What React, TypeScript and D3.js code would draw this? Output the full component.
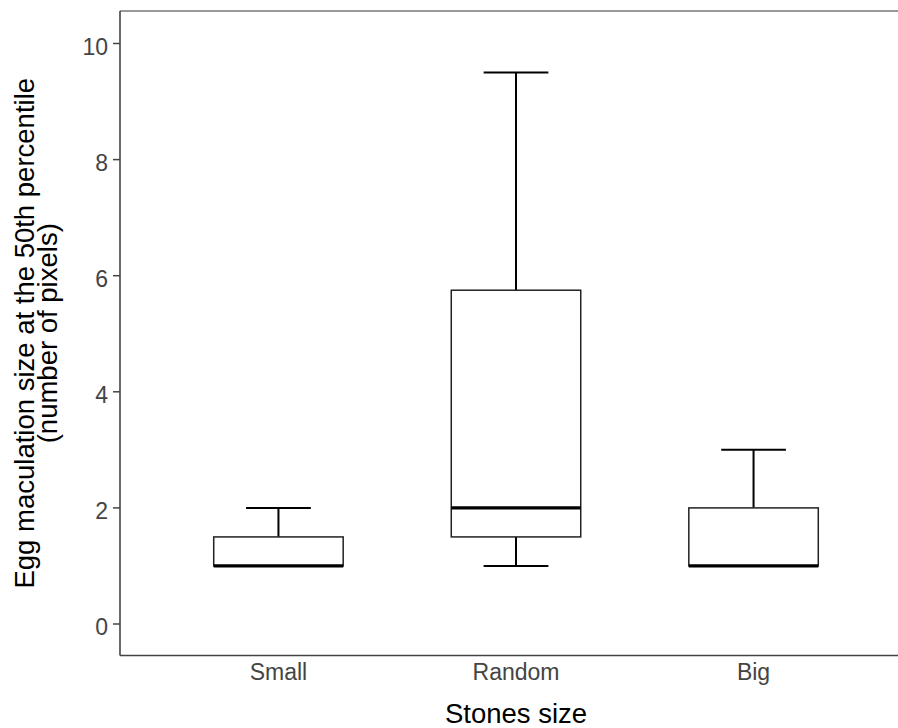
import React from 'react';
import * as d3 from 'd3';

const groups = ['Small', 'Random', 'Big'];
const lowWhisker = [1, 1, 1];
const q1 = [1, 1.5, 1];
const medians = [1, 2, 1];
const q3 = [1.5, 5.75, 2];
const highWhisker = [2, 9.5, 3];
const yTicks = [0, 2, 4, 6, 8, 10];

const W = 898;
const H = 728;
const plot = { left: 120, right: 912, top: 11, bottom: 655.5 };

export default function App() {
  const x = d3.scalePoint<string>().domain(groups).range([plot.left, plot.right]).padding(0.667);
  const y = d3.scaleLinear().domain([0, 10]).range([624, 43.5]);
  const step = x.step();
  const boxW = step * 0.545;
  const capW = boxW / 2;

  const tickFont = { fontFamily: '"Liberation Sans", Arial, sans-serif', fontSize: 23, fill: '#444' };
  const titleFont = { fontFamily: '"Liberation Sans", Arial, sans-serif', fontSize: 27.5, fill: '#000' };
  const midY = (plot.top + plot.bottom) / 2;

  return (
    <svg width={W} height={H} style={{ position: 'absolute', left: 0, top: 0, background: '#fff' }}>
      {/* frame */}
      <line x1={plot.left} x2={plot.right} y1={plot.top} y2={plot.top} stroke="#999" strokeWidth={2} />
      <line x1={plot.right} x2={plot.right} y1={plot.top} y2={plot.bottom} stroke="#999" strokeWidth={2} />
      <line x1={plot.left} x2={plot.left} y1={plot.top} y2={plot.bottom} stroke="#444" strokeWidth={1.6} />
      <line x1={plot.left} x2={plot.right} y1={plot.bottom} y2={plot.bottom} stroke="#444" strokeWidth={1.6} />

      {/* y ticks */}
      {yTicks.map((t) => (
        <g key={t} transform={`translate(${plot.left},${y(t)})`}>
          <line x1={-7} x2={0} stroke="#444" strokeWidth={1.5} />
          <text x={-12} y={3} dy="0.35em" textAnchor="end" {...tickFont}>{t}</text>
        </g>
      ))}

      {/* x labels */}
      {groups.map((g) => (
        <text key={g} x={x(g)} y={plot.bottom + 24} textAnchor="middle" {...tickFont}>{g}</text>
      ))}

      {/* boxes */}
      {groups.map((g, i) => {
        const cx = x(g) as number;
        return (
          <g key={g}>
            {highWhisker[i] > q3[i] && (
              <>
                <line x1={cx} x2={cx} y1={y(q3[i])} y2={y(highWhisker[i])} stroke="#000" strokeWidth={2} />
                <line x1={cx - capW / 2} x2={cx + capW / 2} y1={y(highWhisker[i])} y2={y(highWhisker[i])} stroke="#000" strokeWidth={2} />
              </>
            )}
            {lowWhisker[i] < q1[i] && (
              <>
                <line x1={cx} x2={cx} y1={y(q1[i])} y2={y(lowWhisker[i])} stroke="#000" strokeWidth={2} />
                <line x1={cx - capW / 2} x2={cx + capW / 2} y1={y(lowWhisker[i])} y2={y(lowWhisker[i])} stroke="#000" strokeWidth={2} />
              </>
            )}
            <rect x={cx - boxW / 2} y={y(q3[i])} width={boxW} height={y(q1[i]) - y(q3[i])} fill="#fff" stroke="#222" strokeWidth={1.5} />
            <line x1={cx - boxW / 2} x2={cx + boxW / 2} y1={y(medians[i])} y2={y(medians[i])} stroke="#000" strokeWidth={3.2} />
          </g>
        );
      })}

      {/* titles */}
      <text x={(plot.left + plot.right) / 2} y={plot.bottom + 67} textAnchor="middle" {...titleFont}>Stones size</text>
      <text transform={`translate(34,${midY}) rotate(-90)`} textAnchor="middle" {...titleFont}>Egg maculation size at the 50th percentile</text>
      <text transform={`translate(57,${midY}) rotate(-90)`} textAnchor="middle" {...titleFont}>(number of pixels)</text>
    </svg>
  );
}
